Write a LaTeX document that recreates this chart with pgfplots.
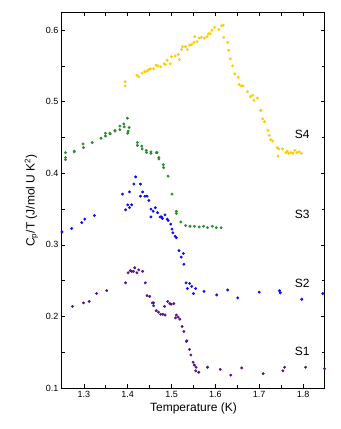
\documentclass[border=0pt]{standalone}
\usepackage{fontspec}
\setmainfont{Liberation Sans}
\usepackage{pgfplots}
\pgfplotsset{compat=1.18}

\definecolor{sfour}{RGB}{255,204,0}
\definecolor{sthree}{RGB}{40,140,40}
\definecolor{stwo}{RGB}{10,10,255}
\definecolor{sone}{RGB}{85,20,140}

\begin{document}
\begin{tikzpicture}
\begin{axis}[
    scale only axis,
    width=263pt, height=375pt,
    xmin=1.25, xmax=1.85,
    ymin=0.1, ymax=0.624,
    xtick={1.3,1.4,1.5,1.6,1.7,1.8},
    ytick={0.1,0.2,0.3,0.4,0.5,0.6},
    minor tick num=1,
    tick align=inside,
    major tick length=3.5pt,
    minor tick length=3pt,
    xticklabel style={/pgf/number format/fixed, /pgf/number format/precision=1},
    yticklabel style={/pgf/number format/fixed, /pgf/number format/fixed zerofill, /pgf/number format/precision=1},
    /pgf/number format/assume math mode=true,
    tick label style={font=\fontsize{9}{10}\selectfont},
    label style={font=\fontsize{12}{14}\selectfont},
    xlabel={Temperature (K)},
    ylabel={C\textsubscript{p}/T (J/mol U K\textsuperscript{2})},
    xlabel style={yshift=2pt},
    ylabel style={yshift=1pt},
    axis line style={line width=1pt},
    every tick/.style={black, line width=0.7pt},
    clip=false,
    only marks,
]
% S4
\addplot[color=sfour, mark=*, mark size=1.25pt] coordinates {
(1.394,0.528) (1.394,0.522) (1.421,0.537) (1.425,0.535) (1.433,0.540) (1.439,0.542)
(1.444,0.543) (1.448,0.545) (1.452,0.546) (1.459,0.546) (1.465,0.551) (1.469,0.550)
(1.475,0.549) (1.483,0.553) (1.486,0.552) (1.490,0.558) (1.497,0.553) (1.500,0.563)
(1.508,0.564) (1.515,0.566) (1.518,0.559) (1.523,0.573) (1.525,0.577) (1.532,0.577)
(1.536,0.573) (1.541,0.579) (1.546,0.580) (1.551,0.583) (1.553,0.591) (1.558,0.584)
(1.563,0.589) (1.568,0.590) (1.575,0.589) (1.581,0.591) (1.584,0.595) (1.588,0.595)
(1.592,0.600) (1.598,0.604) (1.608,0.601) (1.614,0.606) (1.618,0.607) (1.619,0.590)
(1.628,0.583) (1.630,0.572) (1.634,0.560) (1.639,0.550) (1.644,0.539) (1.652,0.534)
(1.654,0.524) (1.659,0.522) (1.663,0.522) (1.673,0.514) (1.680,0.507) (1.685,0.509)
(1.688,0.502) (1.696,0.505) (1.703,0.488) (1.704,0.488) (1.708,0.476) (1.712,0.472)
(1.720,0.460) (1.723,0.453) (1.726,0.447) (1.731,0.445) (1.741,0.436) (1.744,0.434)
(1.743,0.424) (1.753,0.434) (1.761,0.429) (1.764,0.431) (1.767,0.428) (1.772,0.429)
(1.777,0.428) (1.781,0.432) (1.786,0.429) (1.791,0.430) (1.796,0.428)
};
% S3
\addplot[color=sthree, mark=*, mark size=1.25pt] coordinates {
(1.258,0.429) (1.258,0.422) (1.258,0.419) (1.278,0.431) (1.278,0.430) (1.298,0.441)
(1.299,0.436) (1.319,0.443) (1.339,0.449) (1.349,0.456) (1.349,0.452) (1.359,0.456)
(1.360,0.455) (1.371,0.460) (1.371,0.459) (1.382,0.466) (1.382,0.461) (1.391,0.469)
(1.392,0.465) (1.399,0.477) (1.401,0.459) (1.400,0.456) (1.403,0.464) (1.422,0.443)
(1.422,0.439) (1.432,0.438) (1.433,0.434) (1.442,0.432) (1.443,0.429) (1.453,0.430)
(1.453,0.428) (1.465,0.429) (1.467,0.429) (1.471,0.422) (1.471,0.420) (1.481,0.412)
(1.482,0.408) (1.492,0.396) (1.501,0.371) (1.511,0.347) (1.511,0.344) (1.521,0.332)
(1.532,0.327) (1.542,0.326) (1.552,0.326) (1.563,0.325) (1.573,0.326) (1.582,0.324)
(1.593,0.326) (1.602,0.324) (1.613,0.324)
};
% S2
\addplot[color=stwo, mark=*, mark size=1.25pt] coordinates {
(1.250,0.318) (1.272,0.323) (1.295,0.331) (1.302,0.336) (1.324,0.341) (1.388,0.371)
(1.395,0.349) (1.400,0.356) (1.404,0.352) (1.409,0.356) (1.404,0.374) (1.414,0.385)
(1.418,0.395) (1.429,0.385) (1.429,0.368) (1.434,0.374) (1.439,0.368) (1.444,0.368)
(1.448,0.362) (1.453,0.350) (1.458,0.347) (1.453,0.339) (1.463,0.352) (1.468,0.345)
(1.474,0.339) (1.477,0.339) (1.479,0.337) (1.485,0.342) (1.490,0.336) (1.492,0.334)
(1.498,0.329) (1.501,0.322) (1.503,0.317) (1.508,0.312) (1.511,0.310) (1.517,0.292)
(1.522,0.283) (1.527,0.288) (1.528,0.273) (1.533,0.247) (1.541,0.246) (1.536,0.239)
(1.546,0.242) (1.555,0.239) (1.550,0.232) (1.574,0.235) (1.603,0.230) (1.628,0.237)
(1.651,0.226) (1.700,0.234) (1.746,0.236) (1.748,0.233) (1.797,0.224) (1.845,0.232)
};
% S1
\addplot[color=sone, mark=*, mark size=1.25pt] coordinates {
(1.274,0.214) (1.299,0.219) (1.312,0.221) (1.329,0.232) (1.352,0.236) (1.395,0.247)
(1.401,0.261) (1.406,0.264) (1.409,0.263) (1.413,0.263) (1.416,0.268) (1.421,0.261)
(1.425,0.265) (1.434,0.263) (1.440,0.247) (1.444,0.229) (1.450,0.228) (1.456,0.219)
(1.459,0.219) (1.459,0.215) (1.465,0.208) (1.470,0.206) (1.475,0.203) (1.480,0.203)
(1.485,0.202) (1.484,0.214) (1.491,0.221) (1.496,0.218) (1.499,0.217) (1.505,0.218)
(1.509,0.198) (1.511,0.202) (1.515,0.199) (1.519,0.196) (1.524,0.186) (1.528,0.179)
(1.534,0.165) (1.535,0.166) (1.541,0.154) (1.544,0.146) (1.549,0.136) (1.552,0.132)
(1.556,0.129) (1.555,0.124) (1.562,0.122) (1.582,0.129) (1.611,0.126) (1.635,0.118)
(1.660,0.128) (1.709,0.120) (1.754,0.124) (1.758,0.129) (1.806,0.129) (1.849,0.127)
};
\node[font=\fontsize{12}{14}\selectfont] at (axis cs:1.798,0.455) {S4};
\node[font=\fontsize{12}{14}\selectfont] at (axis cs:1.798,0.343) {S3};
\node[font=\fontsize{12}{14}\selectfont] at (axis cs:1.798,0.246) {S2};
\node[font=\fontsize{12}{14}\selectfont] at (axis cs:1.798,0.151) {S1};
\coordinate (sw) at (rel axis cs:0,0);
\coordinate (ne) at (rel axis cs:1,1);
\end{axis}
\path (sw) ++(-62pt,-41pt) (ne) ++(16pt,13pt);
\end{tikzpicture}
\end{document}
